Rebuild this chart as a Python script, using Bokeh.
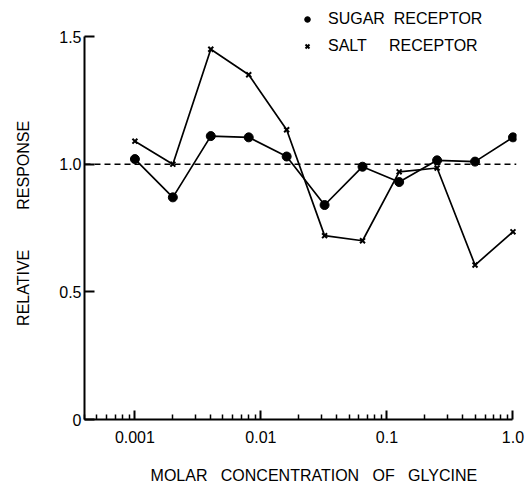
from bokeh.plotting import figure
from bokeh.models import Span, Legend, LegendItem, FixedTicker
from bokeh.embed import file_html
from bokeh.resources import INLINE

# Data
concentration = [0.001, 0.002, 0.004, 0.008, 0.016, 0.032, 0.064, 0.125, 0.25, 0.5, 1.0]
sugar = [1.02, 0.87, 1.11, 1.105, 1.03, 0.84, 0.99, 0.93, 1.015, 1.01, 1.105]
salt = [1.09, 1.0, 1.45, 1.35, 1.135, 0.72, 0.70, 0.97, 0.985, 0.605, 0.735]
x_ticks = [0.001, 0.01, 0.1, 1.0]
x_tick_labels = ["0.001", "0.01", "0.1", "1.0"]
y_ticks = [0, 0.5, 1.0, 1.5]
y_tick_labels = ["0", "0.5", "1.0", "1.5"]
reference_level = 1.0

FONT = "Liberation Sans"
NB = "\u00a0"
X_START = 10 ** -3.4
X_END = 10 ** 0.028

p = figure(width=528, height=486, x_axis_type="log",
           x_range=(X_START, X_END), y_range=(0, 1.641),
           output_backend="svg", toolbar_location=None,
           min_border_left=84, min_border_right=12, min_border_top=0,
           min_border_bottom=67)
p.outline_line_color = None
p.grid.visible = False
p.background_fill_color = "white"

# dashed reference line
p.add_layout(Span(location=reference_level, dimension="width",
                  line_color="black", line_dash="6 4", line_width=1.5))

p.line(concentration, sugar, line_color="black", line_width=1.7)
p.line(concentration, salt, line_color="black", line_width=1.7)
r_sugar = p.scatter(concentration, sugar, marker="circle", size=9,
                    fill_color="black", line_color="black")
r_salt = p.scatter(concentration, salt, marker="x", size=7,
                   line_color="black", line_width=2)

# X axis
minor = []
for dec in [0.0001, 0.001, 0.01, 0.1]:
    for k in range(2, 10):
        minor.append(k * dec)
xa = p.xaxis[0]
xa.ticker = FixedTicker(ticks=x_ticks, minor_ticks=[m for m in minor if X_START < m < 1.0])
xa.major_label_overrides = {t: l for t, l in zip(x_ticks, x_tick_labels)}
xa.bounds = (X_START, 1.0)
xa.axis_line_width = 2
xa.major_tick_in = 9
xa.major_tick_out = 0
xa.minor_tick_in = 5
xa.minor_tick_out = 0
xa.major_tick_line_width = 2
xa.minor_tick_line_width = 1.5
xa.major_label_text_font = FONT
xa.major_label_text_font_size = "16px"
xa.major_label_text_color = "black"
xa.major_label_standoff = 11
xa.axis_label = NB * 6 + "MOLAR" + NB * 3 + "CONCENTRATION" + NB * 3 + "OF" + NB * 3 + "GLYCINE"
xa.axis_label_text_font = FONT
xa.axis_label_text_font_size = "16px"
xa.axis_label_text_font_style = "normal"
xa.axis_label_text_color = "black"
xa.axis_label_standoff = 21

# Y axis
ya = p.yaxis[0]
ya.ticker = FixedTicker(ticks=y_ticks, minor_ticks=[])
ya.major_label_overrides = {t: l for t, l in zip(y_ticks, y_tick_labels)}
ya.bounds = (0, 1.5)
ya.axis_line_width = 2
ya.major_tick_in = 10
ya.major_tick_out = 0
ya.major_tick_line_width = 2
ya.major_label_text_font = FONT
ya.major_label_text_font_size = "16px"
ya.major_label_text_color = "black"
ya.major_label_standoff = 3
ya.axis_label = "RELATIVE" + NB * 9 + "RESPONSE" + NB * 6
ya.axis_label_text_font = FONT
ya.axis_label_text_font_size = "16px"
ya.axis_label_text_font_style = "normal"
ya.axis_label_text_color = "black"
ya.axis_label_standoff = 24

legend = Legend(items=[
    LegendItem(label="SUGAR" + NB * 2 + "RECEPTOR", renderers=[r_sugar]),
    LegendItem(label="SALT" + NB * 5 + "RECEPTOR", renderers=[r_salt]),
], location=(216, 363), padding=0, margin=0, spacing=7,
    glyph_width=14, glyph_height=20, label_height=20, label_standoff=14,
    label_text_font=FONT, label_text_font_size="16px", label_text_color="black",
    border_line_color=None, background_fill_alpha=0)
p.add_layout(legend)

open("out.html", "w").write(file_html(p, INLINE))
